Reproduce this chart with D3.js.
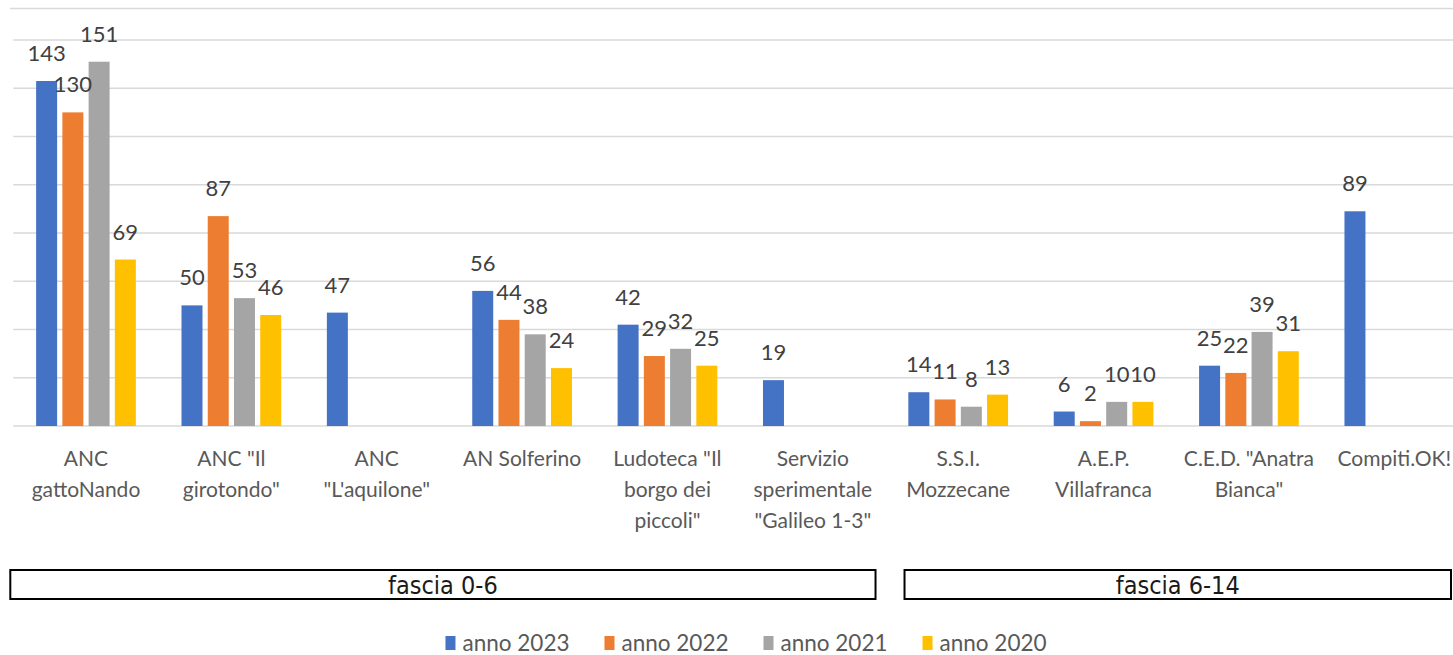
<!DOCTYPE html>
<html>
<head>
<meta charset="utf-8">
<script src="https://cdn.jsdelivr.net/npm/d3@7"></script>
<style>
  html, body { margin: 0; padding: 0; background: #fff; }
  svg { display: block; }
</style>
</head>
<body>
<svg id="chart" width="1453" height="655"></svg>
<script>
// ---- data ----
const categories = [
  ["ANC", "gattoNando"],
  ["ANC \"Il", "girotondo\""],
  ["ANC", "\"L'aquilone\""],
  ["AN Solferino"],
  ["Ludoteca \"Il", "borgo dei", "piccoli\""],
  ["Servizio", "sperimentale", "\"Galileo 1-3\""],
  ["S.S.I.", "Mozzecane"],
  ["A.E.P.", "Villafranca"],
  ["C.E.D. \"Anatra", "Bianca\""],
  ["Compiti.OK!"]
];
const seriesNames = ["anno 2023", "anno 2022", "anno 2021", "anno 2020"];
const anno2023 = [143, 50, 47, 56, 42, 19, 14, 6, 25, 89];
const anno2022 = [130, 87, null, 44, 29, null, 11, 2, 22, null];
const anno2021 = [151, 53, null, 38, 32, null, 8, 10, 39, null];
const anno2020 = [69, 46, null, 24, 25, null, 13, 10, 31, null];
const seriesValues = [anno2023, anno2022, anno2021, anno2020];
const colors = ["#4472C4", "#ED7D31", "#A5A5A5", "#FFC000"];
const yTicks = [0, 20, 40, 60, 80, 100, 120, 140, 160];
const groups = [
  { label: "fascia 0-6", first: 0, last: 5 },
  { label: "fascia 6-14", first: 6, last: 9 }
];

// ---- layout ----
const svg = d3.select("#chart");
const W = 1453;
const FONT = "Lato, 'Open Sans', sans-serif";
const BOXFONT = "'Liberation Sans Narrow', 'DejaVu Sans Condensed', Lato, sans-serif";
const catIdx = categories.map((d, i) => i);

const x0 = d3.scaleBand().domain(catIdx).range([13.3, 1467]).paddingInner(0).paddingOuter(0);
const x1 = d3.scaleBand().domain(seriesNames).range([0, x0.bandwidth()]).paddingInner(0.2).paddingOuter(0.87);
const y = d3.scaleLinear().domain([0, 160]).range([426, 40]);

// top border line
svg.append("line")
  .attr("x1", 10).attr("x2", W).attr("y1", 8.5).attr("y2", 8.5)
  .attr("stroke", "#d9d9d9").attr("stroke-width", 1.5);

// gridlines
svg.append("g").selectAll("line").data(yTicks).join("line")
  .attr("x1", x0.range()[0]).attr("x2", W)
  .attr("y1", d => y(d)).attr("y2", d => y(d))
  .attr("stroke", "#d9d9d9").attr("stroke-width", 1.5);

// bars
const flat = [];
seriesValues.forEach((vals, s) => {
  vals.forEach((v, i) => {
    if (v !== null) flat.push({ s, i, v, name: seriesNames[s] });
  });
});

svg.append("g").selectAll("rect").data(flat).join("rect")
  .attr("x", d => x0(d.i) + x1(d.name))
  .attr("width", x1.bandwidth())
  .attr("y", d => y(d.v))
  .attr("height", d => y(0) - y(d.v))
  .attr("fill", d => colors[d.s]);

// data labels
svg.append("g").selectAll("text").data(flat).join("text")
  .attr("x", d => x0(d.i) + x1(d.name) + x1.bandwidth() / 2)
  .attr("y", d => y(d.v) - 20)
  .attr("text-anchor", "middle")
  .attr("font-family", FONT)
  .attr("font-size", 22)
  .attr("fill", "#404040")
  .text(d => d.v);

// category labels
const cat = svg.append("g").selectAll("text").data(categories).join("text")
  .attr("text-anchor", "middle")
  .attr("font-family", FONT)
  .attr("font-size", 21)
  .attr("fill", "#595959");
cat.each(function(lines, i) {
  const t = d3.select(this);
  lines.forEach((ln, k) => {
    t.append("tspan")
      .attr("x", x0(i) + x0.bandwidth() / 2)
      .attr("y", 466 + k * 31)
      .text(ln);
  });
});

// group boxes
const gBox = svg.append("g").selectAll("g").data(groups).join("g");
const boxX = g => g.first === 0 ? x0(g.first) - 3 : x0(g.first) + 19;
const boxR = g => g.first === 0 ? x0(g.last) + x0.bandwidth() - 10 : Math.min(x0(g.last) + x0.bandwidth() - 16, W - 2);
gBox.append("rect")
  .attr("x", g => boxX(g))
  .attr("y", 570)
  .attr("width", g => boxR(g) - boxX(g))
  .attr("height", 29)
  .attr("fill", "none")
  .attr("stroke", "#000")
  .attr("stroke-width", 2);
gBox.append("text")
  .attr("x", g => (boxX(g) + boxR(g)) / 2)
  .attr("y", 594)
  .attr("text-anchor", "middle")
  .attr("font-family", BOXFONT)
  .attr("font-size", 25)
  .attr("fill", "#1a1a1a")
  .text(g => g.label);

// legend
const leg = svg.append("g");
let lx = 0;
seriesNames.forEach((n, s) => {
  const g = leg.append("g");
  g.append("rect").attr("x", 0).attr("y", -7).attr("width", 10).attr("height", 14).attr("fill", colors[s]);
  const t = g.append("text").attr("x", 17).attr("y", 7.5)
    .attr("font-family", FONT).attr("font-size", 22.5).attr("fill", "#595959").text(n);
  const w = 17 + t.node().getComputedTextLength();
  g.attr("transform", `translate(${lx},0)`);
  lx += w + 35;
});
const total = lx - 35;
leg.attr("transform", `translate(${746 - total / 2},643)`);
</script>
</body>
</html>
